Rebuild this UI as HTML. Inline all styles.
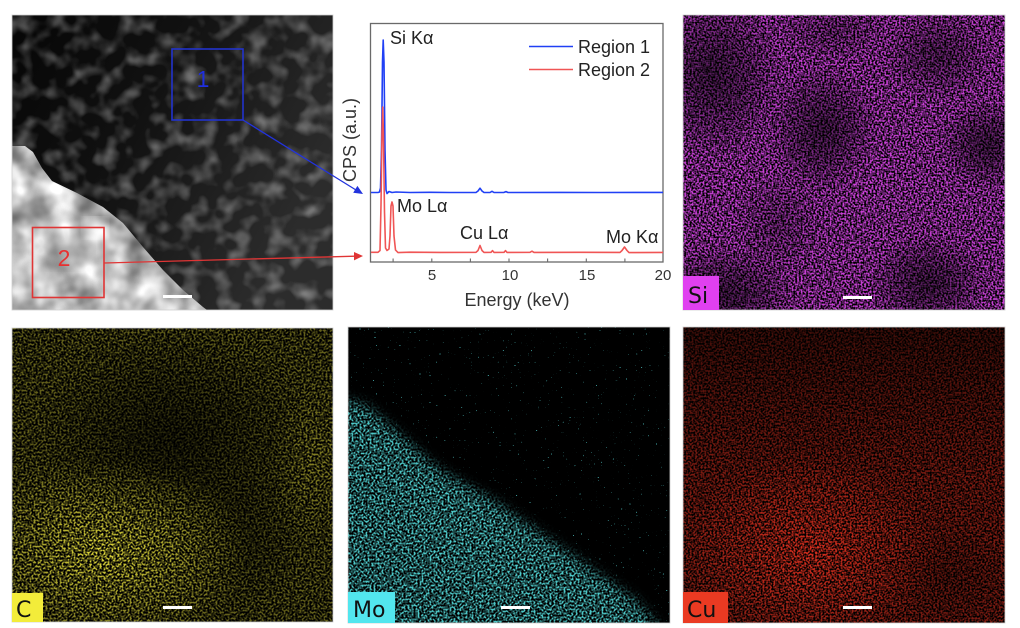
<!DOCTYPE html>
<html><head><meta charset="utf-8"><style>
html,body{margin:0;padding:0;background:#fff;}
svg{display:block;}
</style></head><body>
<svg width="1020" height="628" viewBox="0 0 1020 628" xmlns="http://www.w3.org/2000/svg">
<defs>
 <filter id="fStemD" x="0" y="0" width="1" height="1" color-interpolation-filters="sRGB">
  <feTurbulence type="fractalNoise" baseFrequency="0.06" numOctaves="3" seed="11"/>
  <feGaussianBlur stdDeviation="1.5"/>
  <feColorMatrix type="matrix" values="0 0 0 0 1  0 0 0 0 1  0 0 0 0 1  0.95 0 0 0 -0.43"/>
 </filter>
 <filter id="fStemB" x="0" y="0" width="1" height="1" color-interpolation-filters="sRGB">
  <feTurbulence type="fractalNoise" baseFrequency="0.04" numOctaves="3" seed="4"/>
  <feGaussianBlur stdDeviation="1.5"/>
  <feColorMatrix type="matrix" values="1 0 0 0 0.25  1 0 0 0 0.25  1 0 0 0 0.25  0 0 0 0 1"/>
 </filter>
 <filter id="fSi" x="0" y="0" width="1" height="1" color-interpolation-filters="sRGB">
  <feTurbulence type="fractalNoise" baseFrequency="0.55" numOctaves="1" seed="3"/>
  <feColorMatrix type="matrix" values="0 0 0 0 0.87  0 0 0 0 0.28  0 0 0 0 0.93  3.5 0 0 0 -1.3"/>
 </filter>
 <filter id="fC" x="0" y="0" width="1" height="1" color-interpolation-filters="sRGB">
  <feTurbulence type="fractalNoise" baseFrequency="0.5" numOctaves="1" seed="5"/>
  <feColorMatrix type="matrix" values="0 0 0 0 0.94  0 0 0 0 0.91  0 0 0 0 0.25  3.5 0 0 0 -1.4"/>
 </filter>
 <filter id="fCu" x="0" y="0" width="1" height="1" color-interpolation-filters="sRGB">
  <feTurbulence type="fractalNoise" baseFrequency="0.55" numOctaves="1" seed="8"/>
  <feColorMatrix type="matrix" values="0 0 0 0 0.92  0 0 0 0 0.2  0 0 0 0 0.13  3.5 0 0 0 -1.3"/>
 </filter>
 <filter id="fMo" x="0" y="0" width="1" height="1" color-interpolation-filters="sRGB">
  <feTurbulence type="fractalNoise" baseFrequency="0.5" numOctaves="1" seed="9"/>
  <feColorMatrix type="matrix" values="0 0 0 0 0.35  0 0 0 0 0.9  0 0 0 0 0.9  3.5 0 0 0 -1.4"/>
 </filter>
 <filter id="fMoS" x="0" y="0" width="1" height="1" color-interpolation-filters="sRGB">
  <feTurbulence type="fractalNoise" baseFrequency="0.6" numOctaves="1" seed="2"/>
  <feColorMatrix type="matrix" values="0 0 0 0 0.3  0 0 0 0 0.75  0 0 0 0 0.75  20 0 0 0 -14.6"/>
 </filter>
 <filter id="blur6"><feGaussianBlur stdDeviation="6"/></filter>

 <linearGradient id="gStem" x1="0" y1="0" x2="1" y2="0.5">
  <stop offset="0" stop-color="#060606"/>
  <stop offset="0.45" stop-color="#111"/>
  <stop offset="1" stop-color="#2c2c2c"/>
 </linearGradient>
 <radialGradient id="blobK">
  <stop offset="0" stop-color="#000" stop-opacity="0.6"/>
  <stop offset="0.5" stop-color="#000" stop-opacity="0.35"/>
  <stop offset="1" stop-color="#000" stop-opacity="0"/>
 </radialGradient>
 <radialGradient id="blobW">
  <stop offset="0" stop-color="#fff" stop-opacity="1"/>
  <stop offset="1" stop-color="#fff" stop-opacity="0"/>
 </radialGradient>
 <linearGradient id="topDark" x1="0" y1="0" x2="0" y2="1">
  <stop offset="0" stop-color="#000" stop-opacity="0.5"/>
  <stop offset="1" stop-color="#000" stop-opacity="0"/>
 </linearGradient>

 <clipPath id="clipBright">
  <polygon points="12,146 25,146 33,152 42,168 52,181 77,193 103,207 123,223 143,247 163,270 183,290 203,307 207,310 12,310"/>
 </clipPath>

 <mask id="mSi">
  <rect x="0" y="0" width="322" height="295" fill="#e6e6e6"/>
  <ellipse cx="30" cy="60" rx="70" ry="85" fill="url(#blobK)"/>
  <ellipse cx="140" cy="115" rx="55" ry="65" fill="url(#blobK)"/>
  <ellipse cx="305" cy="130" rx="50" ry="45" fill="url(#blobK)"/>
  <ellipse cx="255" cy="40" rx="55" ry="45" fill="url(#blobK)" opacity="0.8"/>
  <ellipse cx="95" cy="210" rx="45" ry="50" fill="url(#blobK)" opacity="0.5"/>
  <ellipse cx="40" cy="280" rx="75" ry="50" fill="url(#blobK)"/>
  <ellipse cx="245" cy="268" rx="60" ry="50" fill="url(#blobK)"/>
  <ellipse cx="150" cy="15" rx="55" ry="30" fill="url(#blobK)" opacity="0.5"/>
  <ellipse cx="190" cy="165" rx="50" ry="50" fill="url(#blobW)" opacity="0.4"/>
 </mask>
 <mask id="mC">
  <rect x="0" y="0" width="321" height="294" fill="#6a6a6a"/>
  <ellipse cx="160" cy="110" rx="140" ry="110" fill="url(#blobK)"/>
  <ellipse cx="235" cy="210" rx="60" ry="75" fill="url(#blobK)" opacity="0.6"/>
  <ellipse cx="90" cy="225" rx="150" ry="95" fill="url(#blobW)" opacity="0.9"/>
  <ellipse cx="300" cy="130" rx="40" ry="80" fill="url(#blobW)" opacity="0.25"/>
 </mask>
 <mask id="mCu">
  <rect x="0" y="0" width="322" height="296" fill="#8c8c8c"/>
  <rect x="0" y="0" width="322" height="150" fill="url(#topDark)"/>
  <ellipse cx="125" cy="225" rx="130" ry="95" fill="url(#blobW)" opacity="0.9"/>
  <ellipse cx="270" cy="250" rx="60" ry="50" fill="url(#blobK)" opacity="0.4"/>
 </mask>
 <mask id="mMo">
  <rect x="0" y="0" width="322" height="296" fill="#000"/>
  <polygon points="-20,73 0,73 20,80 54,110 87,140 120,160 154,180 187,203 220,226 254,250 287,273 310,300 310,320 -20,320" fill="#e0e0e0" filter="url(#blur6)"/>
  <ellipse cx="110" cy="200" rx="60" ry="50" fill="url(#blobW)" opacity="0.3"/>
 </mask>
</defs>

<rect x="0" y="0" width="1020" height="628" fill="#fff"/>

<!-- STEM image -->
<rect x="12" y="15" width="321" height="295" fill="url(#gStem)"/>
<rect x="12" y="15" width="321" height="295" filter="url(#fStemD)"/>
<g clip-path="url(#clipBright)">
 <rect x="12" y="140" width="200" height="170" filter="url(#fStemB)"/>
 <ellipse cx="62" cy="250" rx="28" ry="18" fill="#777" opacity="0.3" filter="url(#blur6)"/>
 <ellipse cx="95" cy="228" rx="12" ry="10" fill="#fff" opacity="0.6" filter="url(#blur6)"/>
</g>
<rect x="12" y="15" width="321" height="295" fill="none" stroke="#cfcfcf" stroke-width="0.8"/>
<rect x="172" y="49" width="71" height="71" fill="none" stroke="#2233cc" stroke-width="1.6"/>
<text x="203" y="87" font-family="Liberation Sans, Arial, sans-serif" font-size="23" fill="#1f2fe0" text-anchor="middle">1</text>
<rect x="32.5" y="227.5" width="71.5" height="70" fill="none" stroke="#e03535" stroke-width="1.6"/>
<text x="64" y="266" font-family="Liberation Sans, Arial, sans-serif" font-size="23" fill="#e83030" text-anchor="middle">2</text>
<rect x="163" y="295" width="29" height="3" fill="#fff"/>

<!-- arrows -->
<line x1="243" y1="120" x2="356" y2="190" stroke="#2233dd" stroke-width="1.3"/>
<polygon points="363,194 353.2,192.7 357.4,185.9" fill="#2233dd"/>
<line x1="104" y1="263" x2="355" y2="256.2" stroke="#e03535" stroke-width="1.3"/>
<polygon points="363,256 354,252 354,260.4" fill="#e03535"/>

<!-- Chart -->
<g font-family="Liberation Sans, Arial, sans-serif" fill="#222">
 <rect x="370.5" y="23.5" width="292.5" height="238.5" fill="none" stroke="#6a6a6a" stroke-width="1.3"/>
 <g stroke="#6a6a6a" stroke-width="1.1">
  <line x1="393.1" y1="262" x2="393.1" y2="258.5"/>
  <line x1="431.8" y1="262" x2="431.8" y2="258.5"/>
  <line x1="470.4" y1="262" x2="470.4" y2="258.5"/>
  <line x1="509" y1="262" x2="509" y2="258.5"/>
  <line x1="547.6" y1="262" x2="547.6" y2="258.5"/>
  <line x1="586.3" y1="262" x2="586.3" y2="258.5"/>
  <line x1="624.9" y1="262" x2="624.9" y2="258.5"/>
 </g>
 <g font-size="15" text-anchor="middle" fill="#333">
  <text x="432" y="280">5</text>
  <text x="510" y="280">10</text>
  <text x="587" y="280">15</text>
  <text x="663" y="280">20</text>
 </g>
 <text x="517" y="306" font-size="18" text-anchor="middle" fill="#333">Energy (keV)</text>
 <text transform="translate(356,140) rotate(-90)" font-size="18" text-anchor="middle" fill="#333">CPS (a.u.)</text>

 <path d="M371,192.5 L378,192.5 L379.5,192 L380.5,188 L381.5,150 L382.5,62 L383.2,40 L384,62 L385,150 L386,190 L387,193.5 L389,191.5 L392,192.5 L396,192 L410,192.5 L430,192.3 L450,192.5 L476,192.5 L478,191 L480,188.2 L482,191 L484,192.5 L490,192.5 L492,191.3 L494,192.5 L504,192.4 L506,191.6 L508,192.5 L560,192.4 L600,192.5 L663,192.4" fill="none" stroke="#2040f5" stroke-width="1.6" stroke-linejoin="round"/>
 <path d="M371,252.3 L378,252.3 L380,250.5 L381,205 L382,132 L382.7,107 L383.4,132 L384.5,212 L385.5,248 L387,250.5 L389,249 L390,236 L391,206 L392,202 L393,206 L394,236 L395.5,250 L398,252.6 L410,252.2 L440,252.4 L476,252.3 L478,250.5 L480,245.5 L482,250.5 L484,252.4 L491,252.3 L492.5,250.6 L494,252.4 L504,252.3 L505.5,250.6 L507,252.4 L530,252.3 L532,251.2 L534,252.4 L580,252.3 L620,252.4 L622,250.5 L624.5,247 L627,250.5 L629,252.6 L663,252.4" fill="none" stroke="#f05555" stroke-width="1.6" stroke-linejoin="round"/>

 <text x="390" y="44" font-size="18">Si Kα</text>
 <text x="397" y="212" font-size="18">Mo Lα</text>
 <text x="460" y="239" font-size="18">Cu Lα</text>
 <text x="606" y="243" font-size="18">Mo Kα</text>

 <line x1="529" y1="46.5" x2="573" y2="46.5" stroke="#2040f5" stroke-width="1.6"/>
 <line x1="529" y1="69.5" x2="573" y2="69.5" stroke="#f05555" stroke-width="1.6"/>
 <text x="578" y="53" font-size="18">Region 1</text>
 <text x="578" y="76" font-size="18">Region 2</text>
</g>

<!-- Si map -->
<g transform="translate(683,15)">
 <rect x="0" y="0" width="322" height="295" fill="#000"/>
 <rect x="0" y="0" width="322" height="295" filter="url(#fSi)" mask="url(#mSi)"/>
 <rect x="0" y="0" width="322" height="295" fill="none" stroke="#cfcfcf" stroke-width="0.8"/>
 <rect x="0" y="261" width="36" height="34" fill="#e040f0"/>
 <text x="5" y="288" font-family="DejaVu Sans, Liberation Sans, sans-serif" font-size="22" fill="#111">Si</text>
 <rect x="160" y="281" width="29" height="3" fill="#fff"/>
</g>

<!-- C map -->
<g transform="translate(12,328)">
 <rect x="0" y="0" width="321" height="294" fill="#000"/>
 <rect x="0" y="0" width="321" height="294" filter="url(#fC)" mask="url(#mC)"/>
 <rect x="0" y="0" width="321" height="294" fill="none" stroke="#cfcfcf" stroke-width="0.8"/>
 <rect x="0" y="265" width="31" height="29" fill="#f3ec3a"/>
 <text x="4" y="289" font-family="DejaVu Sans, Liberation Sans, sans-serif" font-size="22" fill="#111">C</text>
 <rect x="151" y="278" width="29" height="3" fill="#fff"/>
</g>

<!-- Mo map -->
<g transform="translate(348,327)">
 <rect x="0" y="0" width="322" height="296" fill="#000"/>
 <rect x="0" y="0" width="322" height="296" filter="url(#fMoS)"/>
 <rect x="0" y="0" width="322" height="296" filter="url(#fMo)" mask="url(#mMo)"/>
 <rect x="0" y="0" width="322" height="296" fill="none" stroke="#cfcfcf" stroke-width="0.8"/>
 <rect x="0" y="265" width="47" height="31" fill="#52e6ee"/>
 <text x="5" y="290" font-family="DejaVu Sans, Liberation Sans, sans-serif" font-size="22" fill="#111">Mo</text>
 <rect x="153" y="279" width="29" height="3" fill="#fff"/>
</g>

<!-- Cu map -->
<g transform="translate(683,327)">
 <rect x="0" y="0" width="322" height="296" fill="#000"/>
 <rect x="0" y="0" width="322" height="296" filter="url(#fCu)" mask="url(#mCu)"/>
 <rect x="0" y="0" width="322" height="296" fill="none" stroke="#cfcfcf" stroke-width="0.8"/>
 <rect x="0" y="265" width="45" height="31" fill="#ea3a22"/>
 <text x="4" y="290" font-family="DejaVu Sans, Liberation Sans, sans-serif" font-size="22" fill="#111">Cu</text>
 <rect x="160" y="279" width="29" height="3" fill="#fff"/>
</g>
</svg>
</body></html>
